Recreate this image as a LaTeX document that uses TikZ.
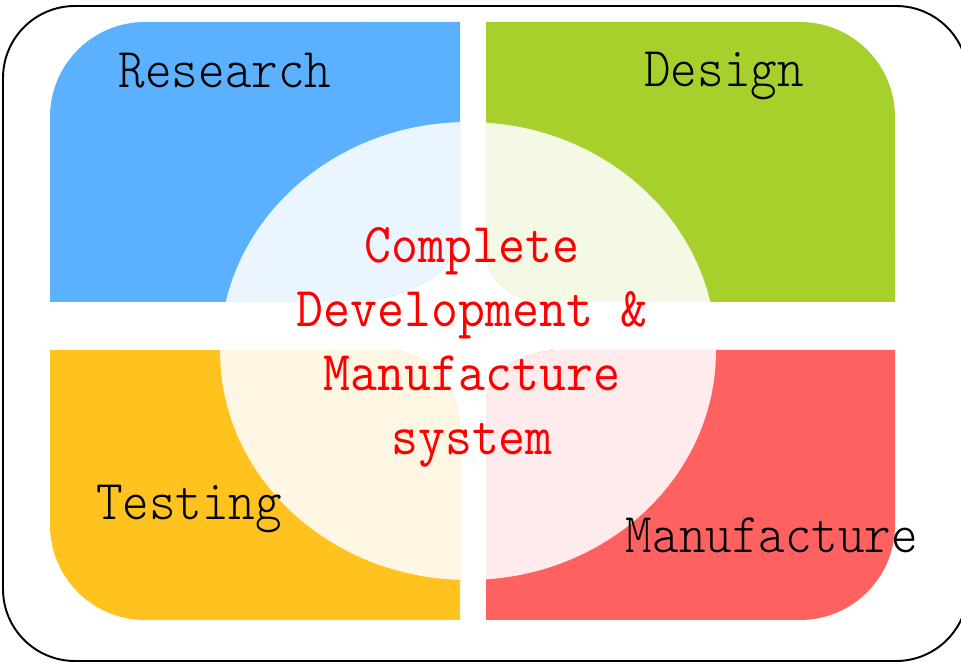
\documentclass[tikz,border=0pt]{standalone}
\usepackage{fontspec}
\usepackage{xcolor}
\usepackage{tikz}
\newfontfamily\thinmono{Latin Modern Mono Light}

\definecolor{resblue}{RGB}{91,176,255}
\definecolor{desgreen}{RGB}{168,208,44}
\definecolor{testyellow}{RGB}{255,194,30}
\definecolor{manred}{RGB}{255,97,97}

\tikzset{
  quadlabel/.style={font=\thinmono\fontsize{32}{36.4}\selectfont, xscale=0.9, anchor=base, inner sep=0pt},
  tint/.style={white, opacity=0.88}
}

\begin{document}
\begin{tikzpicture}[x=0.02cm, y=0.02cm]
    \clip (0,0) rectangle (961,663);

    % Frame
    \draw[line width=1.1pt, rounded corners=1.44cm] (3,2) rectangle (968,657);

    % Research
    \begin{scope}
      \clip (50,361) -- (50,546) arc[start angle=180, end angle=90, radius=1.9cm]
        -- (460,641) -- (460,431)
        arc[start angle=0, end angle=-90, x radius=2.3cm, y radius=1.4cm] -- cycle;
      \fill[resblue] (0,0) rectangle (961,663);
      \fill[tint] (468,312) ellipse[x radius=4.96cm, y radius=4.58cm];
    \end{scope}

    % Design
    \begin{scope}
      \clip (486,411) -- (486,641) -- (800,641)
        arc[start angle=90, end angle=0, radius=1.9cm] -- (895,361) -- (546,361)
        arc[start angle=-90, end angle=-180, x radius=1.2cm, y radius=1cm] -- cycle;
      \fill[desgreen] (0,0) rectangle (961,663);
      \fill[tint] (468,312) ellipse[x radius=4.96cm, y radius=4.58cm];
    \end{scope}

    % Testing
    \begin{scope}
      \clip (50,313) -- (50,138) arc[start angle=180, end angle=270, radius=1.9cm]
        -- (460,43) -- (460,235)
        arc[start angle=0, end angle=90, x radius=1.44cm, y radius=1.56cm] -- cycle;
      \fill[testyellow] (0,0) rectangle (961,663);
      \fill[tint] (468,312) ellipse[x radius=4.96cm, y radius=4.58cm];
    \end{scope}

    % Manufacture
    \begin{scope}
      \clip (562,313) -- (895,313) -- (895,138)
        arc[start angle=0, end angle=-90, radius=1.9cm] -- (486,43) -- (486,261)
        arc[start angle=180, end angle=90, x radius=1.52cm, y radius=1.04cm] -- cycle;
      \fill[manred] (0,0) rectangle (961,663);
      \fill[tint] (468,312) ellipse[x radius=4.96cm, y radius=4.58cm];
    \end{scope}

    % Labels
    \node[quadlabel] (research) at (225,575) {Research};
    \node[quadlabel] (design) at (724,576) {Design};
    \node[quadlabel] (testing) at (189,143) {Testing};
    \node[quadlabel] (manufacture) at (772,110) {Manufacture};
    \node[quadlabel, font=\ttfamily\fontsize{32}{36.4}\selectfont, xscale=0.93/0.9,
      anchor=center, align=center, text=red] (system) at (472,316)
      {Complete\\Development \&\\Manufacture\\system};
\end{tikzpicture}
\end{document}
